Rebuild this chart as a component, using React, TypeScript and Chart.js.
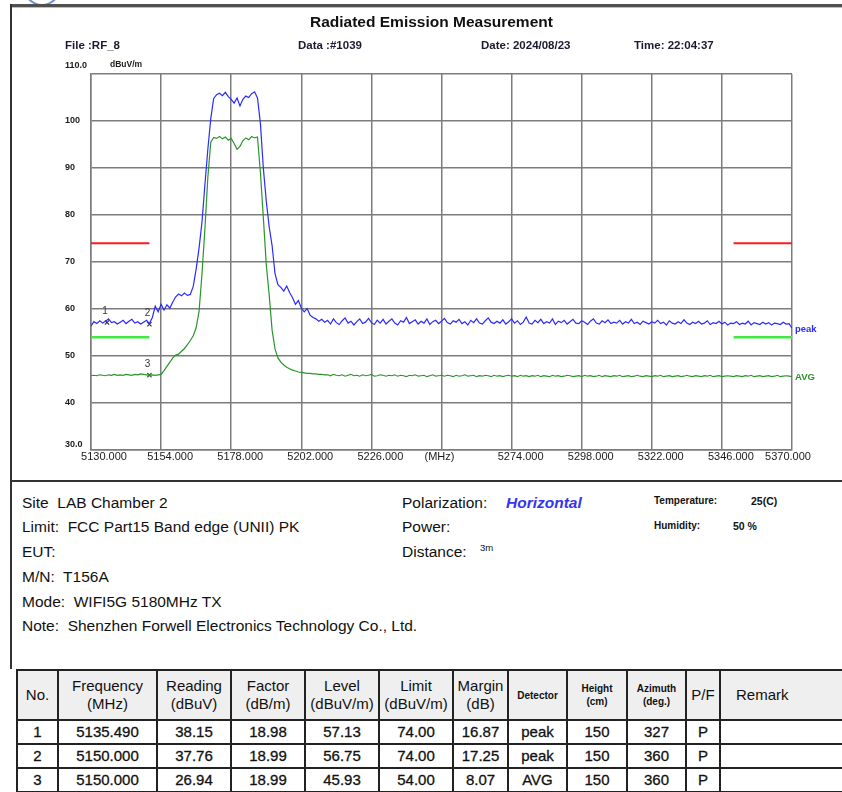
import React, { useEffect, useRef } from "react";
import { Chart, registerables } from "chart.js";

Chart.register(...registerables);

// ---------- data ----------
const xTickValues = [5130, 5154, 5178, 5202, 5226, 5250, 5274, 5298, 5322, 5346, 5370];
const xTickLabels = ["5130.000", "5154.000", "5178.000", "5202.000", "5226.000", "(MHz)", "5274.000", "5298.000", "5322.000", "5346.000", "5370.000"];
const yTickValues = [110, 100, 90, 80, 70, 60, 50, 40, 30];
const yTickLabels = ["110.0", "100", "90", "80", "70", "60", "50", "40", "30.0"];

// sweep sample grid: 1 MHz steps 5130-5370
const sweepStart = 5130;
const sweepStop = 5370;
const sweepFreqs: number[] = [];
for (let f = sweepStart; f <= sweepStop; f += 1) sweepFreqs.push(f);

const peakValues = [
  56.4, 57.3, 56.9, 57.5, 57.0, 57.4, 57.9, 57.1, 57.3, 56.8,
  57.2, 57.6, 56.9, 57.4, 57.8, 57.0, 57.3, 56.8, 57.2, 57.6,
  56.9, 58.2, 60.6, 59.4, 61.0, 59.8, 60.9, 60.2, 61.5, 62.6,
  63.2, 62.8, 63.4, 62.9, 63.1, 64.8, 68.5, 73.0, 78.5, 86.5,
  94.0, 100.5, 104.8, 105.6, 105.9, 105.4, 106.1, 105.2, 104.6, 103.8,
  104.9, 103.2, 104.6, 105.3, 105.0, 105.8, 106.2, 104.9, 99.5, 90.0,
  83.0, 77.5, 73.5, 67.5, 65.2, 64.6, 63.8, 64.9, 63.5, 62.4,
  61.0, 61.8, 60.2, 59.4, 60.1, 58.7, 58.2, 57.9, 57.4, 57.8,
  57.2,
  57.6, 56.8, 57.9, 57.1, 56.7, 57.5, 58.1, 57.0, 57.4, 56.6,
  57.3, 57.9, 56.9, 57.2, 58.0, 57.1, 56.7, 57.6, 57.0, 57.8,
  56.8, 57.4, 57.9, 57.0, 56.6, 57.5, 57.2, 58.2, 56.9, 57.3,
  57.7, 56.8, 57.4, 57.0, 57.9, 56.7, 57.3, 57.6, 56.9, 57.4,
  58.0, 57.1, 56.8, 57.5, 57.2, 57.8, 56.9, 57.3, 56.6, 57.6,
  57.1, 57.9, 57.0, 56.8, 57.5, 58.1, 57.2, 56.9, 57.4, 57.0,
  57.7, 56.8, 57.3, 57.9, 57.0, 57.5, 56.7, 57.2, 58.3, 57.0,
  56.8, 57.6, 57.1, 57.8, 56.9, 57.3, 57.0, 57.9, 56.7, 57.4,
  57.1, 57.6, 56.8, 57.3, 57.8, 57.0, 56.9, 57.5, 57.2, 56.7,
  57.4, 57.9, 57.0, 56.8, 57.5, 57.1, 57.7, 56.9, 57.2, 57.0,
  57.6, 56.8, 57.3, 57.0, 57.8, 56.9, 57.2, 56.7, 57.4, 57.1,
  56.8, 57.3, 57.0, 57.6, 56.9, 57.2, 56.6, 57.5, 57.0, 56.8,
  57.3, 56.9, 57.7, 57.0, 56.7, 57.2, 56.9, 57.4, 56.8, 57.0,
  57.5, 56.7, 57.1, 56.9, 57.4, 56.8, 57.2, 56.6, 57.0, 56.9,
  57.3, 56.7, 57.0, 56.8, 57.4, 56.6, 57.1, 56.9, 56.7, 57.2,
  56.8, 57.1, 56.6, 57.0, 56.9, 56.7, 57.2, 56.8, 56.9, 55.9,
];

const avgValues = [
  45.8, 45.9, 45.8, 46.0, 45.9, 45.8, 46.0, 45.9, 46.1, 45.9,
  46.0, 45.9, 46.1, 46.0, 45.9, 46.1, 46.0, 46.2, 46.1, 46.0,
  45.9, 46.0, 45.9, 46.0, 46.1, 46.9, 47.8, 48.7, 49.6, 50.2,
  50.4, 51.0, 51.6, 52.4, 53.3, 54.3, 56.0, 59.5, 67.5, 77.0,
  88.0, 95.5, 96.5, 96.3, 96.7, 96.2, 96.6, 95.9, 96.3, 95.2,
  94.0, 94.6, 95.8, 96.4, 96.0, 96.7, 96.4, 96.6, 89.0, 79.5,
  69.5, 63.0, 55.5, 51.5, 49.6, 48.7, 48.1, 47.6, 47.3, 47.0,
  46.8, 46.6, 46.5, 46.4, 46.3, 46.3, 46.2, 46.2, 46.1, 46.1,
  46.0,
  46.0, 45.8, 46.1, 45.9, 45.8, 46.0, 45.7, 45.9, 46.1, 45.8,
  45.9, 45.7, 46.0, 45.8, 45.9, 46.1, 45.7, 45.8, 46.0, 45.9,
  45.7, 45.9, 45.8, 46.0, 45.7, 45.9, 45.8, 45.6, 45.9, 45.8,
  46.0, 45.7, 45.8, 45.9, 45.6, 45.8, 46.0, 45.7, 45.8, 45.9,
  45.7, 45.9, 45.8, 45.6, 45.9, 45.7, 45.8, 46.0, 45.7, 45.8,
  45.9, 45.6, 45.8, 45.7, 45.9, 45.8, 45.6, 45.9, 45.7, 45.8,
  45.6, 45.8, 45.9, 45.7, 45.8, 45.6, 45.9, 45.7, 45.8, 45.6,
  45.8, 45.7, 45.9, 45.6, 45.8, 45.7, 45.6, 45.9, 45.7, 45.8,
  45.6, 45.7, 45.9, 45.8, 45.6, 45.7, 45.8, 45.6, 45.9, 45.7,
  45.8, 45.6, 45.7, 45.9, 45.6, 45.8, 45.7, 45.6, 45.8, 45.7,
  45.9, 45.6, 45.7, 45.8, 45.6, 45.7, 45.9, 45.7, 45.6, 45.8,
  45.7, 45.6, 45.8, 45.7, 45.9, 45.6, 45.7, 45.8, 45.6, 45.7,
  45.8, 45.6, 45.7, 45.9, 45.7, 45.6, 45.8, 45.7, 45.6, 45.8,
  45.7, 45.9, 45.6, 45.7, 45.8, 45.6, 45.7, 45.8, 45.7, 45.6,
  45.8, 45.7, 45.6, 45.8, 45.7, 45.9, 45.6, 45.7, 45.8, 45.6,
  45.7, 45.8, 45.6, 45.7, 45.9, 45.6, 45.7, 45.8, 45.7, 45.6,
];

const peakLimit = 74;
const avgLimit = 54;
const limitRanges = [
  [5130, 5150],
  [5350, 5370],
];

const markerNos = ["1", "2", "3"];
const markerFreqs = [5135.49, 5150.0, 5150.0];
const markerLevels = [57.13, 56.75, 45.93];

// table
const tableNo = ["1", "2", "3"];
const tableFreq = ["5135.490", "5150.000", "5150.000"];
const tableReading = ["38.15", "37.76", "26.94"];
const tableFactor = ["18.98", "18.99", "18.99"];
const tableLevel = ["57.13", "56.75", "45.93"];
const tableLimit = ["74.00", "74.00", "54.00"];
const tableMargin = ["16.87", "17.25", "8.07"];
const tableDetector = ["peak", "peak", "AVG"];
const tableHeight = ["150", "150", "150"];
const tableAzimuth = ["327", "360", "360"];
const tablePF = ["P", "P", "P"];

// ---------- styling ----------
const FONT = '"Liberation Sans", Arial, sans-serif';
const BLUE = "#2b2bff";
const GREEN = "#2a962a";
const GRID = "#7c7c7c";

const labelPlugin = {
  id: "emiLabels",
  afterDatasetsDraw(chart: any) {
    const { ctx, scales, chartArea } = chart;
    const xs = scales.x;
    const ys = scales.y;
    ctx.save();
    ctx.fillStyle = "#1a1a1a";
    ctx.textBaseline = "middle";

    // x tick labels
    ctx.font = `11px ${FONT}`;
    ctx.textAlign = "center";
    const n = xTickValues.length;
    xTickValues.forEach((v, i) => {
      const gx = xs.getPixelForValue(v);
      const lab = xTickLabels[i];
      let shift = 9;
      if (i === 0) shift = 13;
      else if (i === n - 1) shift = -4;
      else if (lab.startsWith("(")) shift = -2;
      ctx.fillText(lab, gx + shift, chartArea.bottom + 7);
    });

    // y tick labels
    ctx.textAlign = "left";
    ctx.font = `bold 9px ${FONT}`;
    yTickValues.forEach((v, i) => {
      let gy = ys.getPixelForValue(v);
      if (i === 0) gy = chartArea.top - 8;
      if (i === yTickValues.length - 1) gy = chartArea.bottom - 5;
      ctx.fillText(yTickLabels[i], 65, gy);
    });
    ctx.font = `bold 8.5px ${FONT}`;
    ctx.fillText("dBuV/m", 110, chartArea.top - 9);

    // trace end labels
    ctx.font = `bold 9.5px ${FONT}`;
    ctx.fillStyle = BLUE;
    ctx.fillText("peak", chartArea.right + 3, ys.getPixelForValue(peakValues[peakValues.length - 1]) + 1);
    ctx.fillStyle = GREEN;
    ctx.fillText("AVG", chartArea.right + 3, ys.getPixelForValue(avgValues[avgValues.length - 1]) + 1);

    // marker numbers
    ctx.font = `10px ${FONT}`;
    ctx.textAlign = "center";
    markerNos.forEach((no, i) => {
      const px = xs.getPixelForValue(markerFreqs[i]);
      const py = ys.getPixelForValue(markerLevels[i]);
      ctx.fillStyle = "#333";
      ctx.fillText(no, px - 2, py - 11);
    });
    ctx.restore();
  },
};

function ChartCanvas() {
  const ref = useRef<HTMLCanvasElement>(null);
  useEffect(() => {
    const canvas = ref.current;
    if (!canvas) return;
    const peakData = sweepFreqs.map((f, i) => ({ x: f, y: peakValues[i] }));
    const avgData = sweepFreqs.map((f, i) => ({ x: f, y: avgValues[i] }));
    const limitSets: any[] = [];
    limitRanges.forEach((r) => {
      limitSets.push({
        data: [{ x: r[0], y: peakLimit }, { x: r[1], y: peakLimit }],
        borderColor: "#ff1a1a",
        borderWidth: 2,
        pointRadius: 0,
      });
      limitSets.push({
        data: [{ x: r[0], y: avgLimit }, { x: r[1], y: avgLimit }],
        borderColor: "#44e844",
        borderWidth: 2.5,
        pointRadius: 0,
      });
    });
    const markerData = markerFreqs.map((f, i) => ({ x: f, y: markerLevels[i] }));
    const chart = new Chart(canvas, {
      type: "line",
      data: {
        datasets: [
          ...limitSets,
          { data: avgData, borderColor: GREEN, borderWidth: 1.2, pointRadius: 0 },
          { data: peakData, borderColor: BLUE, borderWidth: 1.2, pointRadius: 0 },
          {
            type: "scatter",
            data: markerData,
            pointStyle: "crossRot",
            pointRadius: 3,
            pointBorderWidth: 1.2,
            pointBorderColor: ["#333", "#333", "#2a6a2a"],
            showLine: false,
          } as any,
        ],
      },
      options: {
        animation: false,
        responsive: false,
        devicePixelRatio: 1,
        layout: { padding: { left: 91, top: 74, right: 50, bottom: 30 } },
        plugins: {
          legend: { display: false },
          tooltip: { enabled: false },
          title: { display: false },
        },
        elements: { line: { tension: 0 } },
        scales: {
          x: {
            type: "linear",
            min: sweepStart,
            max: sweepStop,
            ticks: { display: false, stepSize: 24 },
            grid: { color: GRID, lineWidth: 1.5, drawTicks: false },
            border: { display: true, color: GRID, width: 1.5 },
          },
          y: {
            type: "linear",
            min: 30,
            max: 110,
            ticks: { display: false, stepSize: 10 },
            grid: { color: GRID, lineWidth: 1.5, drawTicks: false },
            border: { display: true, color: GRID, width: 1.5 },
          },
        },
      } as any,
      plugins: [labelPlugin],
    });
    return () => chart.destroy();
  }, []);
  return (
    <canvas
      ref={ref}
      width={842}
      height={480}
      style={{ position: "absolute", left: 0, top: 0, width: 842, height: 480 }}
    />
  );
}

function T(props: { x: number; y: number; children: React.ReactNode; style?: React.CSSProperties }) {
  return (
    <div
      style={{
        position: "absolute",
        left: props.x,
        top: props.y - 10,
        height: 20,
        lineHeight: "20px",
        whiteSpace: "pre",
        color: "#111",
        ...props.style,
      }}
    >
      {props.children}
    </div>
  );
}

const colWidths = [41, 99, 74, 74, 74, 74, 55, 59, 60, 59, 34, 140];

export default function App() {
  const hdr: React.CSSProperties = { fontSize: 15, lineHeight: "18px" };
  const small: React.CSSProperties = { fontSize: 10, fontWeight: "bold", lineHeight: "13px" };
  const cellBase: React.CSSProperties = {
    border: "2px solid #222",
    padding: 0,
    textAlign: "center",
    verticalAlign: "middle",
    overflow: "hidden",
    whiteSpace: "nowrap",
  };
  const headerCells: [React.ReactNode, React.CSSProperties][] = [
    ["No.", hdr],
    [<>Frequency<br />(MHz)</>, hdr],
    [<>Reading<br />(dBuV)</>, hdr],
    [<>Factor<br />(dB/m)</>, hdr],
    [<>Level<br />(dBuV/m)</>, hdr],
    [<>Limit<br />(dBuV/m)</>, hdr],
    [<>Margin<br />(dB)</>, hdr],
    ["Detector", small],
    [<>Height<br />(cm)</>, small],
    [<>Azimuth<br />(deg.)</>, small],
    ["P/F", hdr],
    ["Remark", { ...hdr, textAlign: "left", paddingLeft: 15 }],
  ];
  const rows = tableNo.map((no, i) => [
    no,
    tableFreq[i],
    tableReading[i],
    tableFactor[i],
    tableLevel[i],
    tableLimit[i],
    tableMargin[i],
    tableDetector[i],
    tableHeight[i],
    tableAzimuth[i],
    tablePF[i],
    "",
  ]);

  return (
    <div
      style={{
        position: "absolute",
        left: 0,
        top: 0,
        width: 842,
        height: 792,
        overflow: "hidden",
        background: "#fff",
        fontFamily: FONT,
        color: "#111",
      }}
    >
      <ChartCanvas />

      {/* frame */}
      <div style={{ position: "absolute", left: 22, top: -38, width: 36, height: 40, borderRadius: "50%", border: "2px solid #6f8fd0" }} />
      <div style={{ position: "absolute", left: 10, top: 4, width: 832, height: 3, background: "#505050" }} />
      <div style={{ position: "absolute", left: 12, top: 7, width: 830, height: 1, background: "#c0c0c0" }} />
      <div style={{ position: "absolute", left: 10, top: 4, width: 2, height: 665, background: "#333" }} />
      <div style={{ position: "absolute", left: 10, top: 480, width: 832, height: 2, background: "#333" }} />

      {/* header */}
      <T x={310} y={22} style={{ fontSize: 15.5, fontWeight: "bold" }}>Radiated Emission Measurement</T>
      <T x={65} y={45} style={{ fontSize: 11.5, fontWeight: "bold", color: "#1a1a30" }}>File :RF_8</T>
      <T x={298} y={45} style={{ fontSize: 11.5, fontWeight: "bold", color: "#1a1a30" }}>Data :#1039</T>
      <T x={481} y={45} style={{ fontSize: 11.5, fontWeight: "bold", color: "#1a1a30" }}>Date: 2024/08/23</T>
      <T x={634} y={45} style={{ fontSize: 11.5, fontWeight: "bold", color: "#1a1a30" }}>Time: 22:04:37</T>

      {/* info */}
      <T x={22} y={503} style={{ fontSize: 15.5 }}>Site  LAB Chamber 2</T>
      <T x={22} y={527} style={{ fontSize: 15.5 }}>Limit:  FCC Part15 Band edge (UNII) PK</T>
      <T x={22} y={552} style={{ fontSize: 15.5 }}>EUT:</T>
      <T x={22} y={577} style={{ fontSize: 15.5 }}>M/N:  T156A</T>
      <T x={22} y={602} style={{ fontSize: 15.5 }}>Mode:  WIFI5G 5180MHz TX</T>
      <T x={22} y={626} style={{ fontSize: 15.5 }}>Note:  Shenzhen Forwell Electronics Technology Co., Ltd.</T>

      <T x={402} y={503} style={{ fontSize: 15.5 }}>Polarization:</T>
      <T x={506} y={503} style={{ fontSize: 15.5, fontWeight: "bold", fontStyle: "italic", color: "#3535f0" }}>Horizontal</T>
      <T x={402} y={527} style={{ fontSize: 15.5 }}>Power:</T>
      <T x={402} y={552} style={{ fontSize: 15.5 }}>Distance:</T>
      <T x={480} y={548} style={{ fontSize: 9.5 }}>3m</T>

      <T x={654} y={501} style={{ fontSize: 10, fontWeight: "bold" }}>Temperature:</T>
      <T x={751} y={501} style={{ fontSize: 10.5, fontWeight: "bold" }}>25(C)</T>
      <T x={654} y={526} style={{ fontSize: 10, fontWeight: "bold" }}>Humidity:</T>
      <T x={733} y={526} style={{ fontSize: 10.5, fontWeight: "bold" }}>50 %</T>

      {/* table */}
      <table
        style={{
          position: "absolute",
          left: 16,
          top: 669,
          borderCollapse: "collapse",
          tableLayout: "fixed",
          width: colWidths.reduce((a, b) => a + b, 0),
          fontFamily: FONT,
          color: "#111",
        }}
      >
        <colgroup>
          {colWidths.map((w, i) => (
            <col key={i} style={{ width: w }} />
          ))}
        </colgroup>
        <tbody>
          <tr style={{ height: 50, background: "#efefef" }}>
            {headerCells.map(([c, st], i) => (
              <td key={i} style={{ ...cellBase, ...st }}>
                {c}
              </td>
            ))}
          </tr>
          {rows.map((r, ri) => (
            <tr key={ri} style={{ height: 24 }}>
              {r.map((c, ci) => (
                <td
                  key={ci}
                  style={{ ...cellBase, fontSize: 15, lineHeight: "20px", WebkitTextStroke: "0.3px #111" } as any}
                >
                  {c}
                </td>
              ))}
            </tr>
          ))}
        </tbody>
      </table>
    </div>
  );
}
